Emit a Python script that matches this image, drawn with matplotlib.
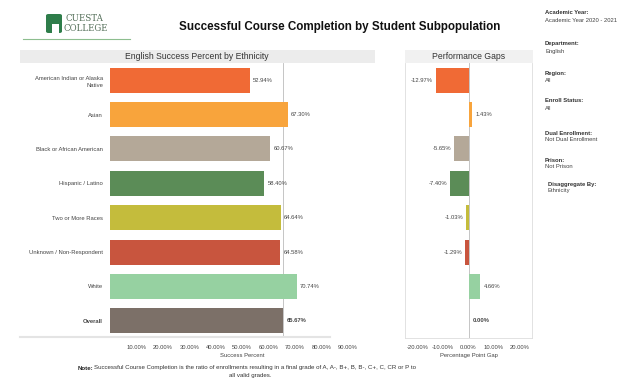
import matplotlib
matplotlib.use("Agg")
import matplotlib.pyplot as plt
from matplotlib.patches import Rectangle, FancyBboxPatch
from matplotlib.ticker import FuncFormatter

plt.rcParams['font.family'] = ['Liberation Sans', 'DejaVu Sans']

# ---- data ----
groups = ["American Indian or Alaska\nNative", "Asian", "Black or African American",
          "Hispanic / Latino", "Two or More Races", "Unknown / Non-Respondent",
          "White", "Overall"]
success_pct = [52.94, 67.30, 60.67, 58.40, 64.64, 64.58, 70.74, 65.67]
gap_pct = [-12.97, 1.43, -5.65, -7.40, -1.03, -1.29, 4.66, 0.00]
colors = ["#F06A35", "#F8A43C", "#B4A898", "#5B8C57", "#C4BC3C", "#C8553E",
          "#96D1A1", "#7C7068"]
success_ticks = [10, 20, 30, 40, 50, 60, 70, 80, 90]
gap_ticks = [-20, -10, 0, 10, 20]

filters = [("Academic Year:", "Academic Year 2020 - 2021"),
           ("Department:", "English"),
           ("Region:", "All"),
           ("Enroll Status:", "All"),
           ("Dual Enrollment:", "Not Dual Enrollment"),
           ("Prison:", "Not Prison"),
           ("Disaggregate By:", "Ethnicity")]

W, H = 621, 384
fig = plt.figure(figsize=(W / 100, H / 100), dpi=100)
fig.patch.set_facecolor("white")


def fx(x):
    return x / W


def fy(y):
    return 1 - y / H


def axes_px(x0, y0, x1, y1):
    return fig.add_axes([fx(x0), fy(y1), fx(x1) - fx(x0), (y1 - y0) / H])


TXT = "#444444"
FS = 4.2
n = len(groups)
ypos = list(range(n))

# ---- panel headers ----
fig.patches.append(Rectangle((fx(20), fy(63)), fx(375) - fx(20), 13 / H,
                             transform=fig.transFigure, facecolor="#ECECEC",
                             edgecolor="none", zorder=0))
fig.patches.append(Rectangle((fx(405), fy(63)), fx(533) - fx(405), 13 / H,
                             transform=fig.transFigure, facecolor="#F1F1F1",
                             edgecolor="none", zorder=0))
fig.text(fx(197), fy(56.5), "English Success Percent by Ethnicity", ha="center",
         va="center", fontsize=6.2, color="#333333")
fig.text(fx(469), fy(56.5), "Performance Gaps", ha="center", va="center",
         fontsize=6.2, color="#333333")

# ---- success percent bars ----
ax = axes_px(110, 63, 374, 338)
ax.barh(ypos, success_pct, height=0.73, color=colors, zorder=2)
ax.set_xlim(0, 100)
ax.set_ylim(n - 0.5, -0.5)
ax.axvline(success_pct[-1], color="#BBBBBB", lw=0.6, zorder=1)
ax.set_yticks(ypos)
ax.set_yticklabels(groups, fontsize=FS, color=TXT, linespacing=1.5)
for lbl in ax.get_yticklabels():
    lbl.set_multialignment("right")
ax.get_yticklabels()[-1].set_fontweight("bold")
ax.set_xticks(success_ticks)
ax.xaxis.set_major_formatter(FuncFormatter(lambda v, p: f"{v:.2f}%"))
ax.tick_params(axis="x", labelsize=FS, colors=TXT, length=0, pad=5)
ax.tick_params(axis="y", length=0, pad=5)
ax.set_xlabel("Success Percent", fontsize=FS, color=TXT, labelpad=2)
for s in ["top", "right", "bottom", "left"]:
    ax.spines[s].set_visible(False)
for i, v in enumerate(success_pct):
    ax.text(v + 1.2, i, f"{v:.2f}%", va="center", ha="left", fontsize=FS,
            color=TXT, fontweight="bold" if i == n - 1 else "normal")

# faint baseline under the left panel
fig.lines.append(plt.Line2D([fx(20), fx(330)], [fy(337), fy(337)],
                            transform=fig.transFigure, color="#E4E4E4", lw=1.5))

# ---- performance gap bars ----
gx = axes_px(405, 63, 532, 338)
gx.barh(ypos, gap_pct, height=0.73, color=colors, zorder=2)
gx.set_xlim(-25, 25)
gx.set_ylim(n - 0.5, -0.5)
gx.axvline(0, color="#BBBBBB", lw=0.6, zorder=1)
gx.set_yticks([])
gx.set_xticks(gap_ticks)
gx.xaxis.set_major_formatter(FuncFormatter(lambda v, p: f"{v:.2f}%"))
gx.tick_params(axis="x", labelsize=FS, colors=TXT, length=0, pad=5)
gx.set_xlabel("Percentage Point Gap", fontsize=FS, color=TXT, labelpad=2)
gx.spines["top"].set_visible(False)
for s in ["left", "right", "bottom"]:
    gx.spines[s].set_color("#DDDDDD")
    gx.spines[s].set_linewidth(0.6)
for i, v in enumerate(gap_pct):
    bold = "bold" if i == n - 1 else "normal"
    if v < 0:
        gx.text(v - 1.0, i, f"{v:.2f}%", va="center", ha="right", fontsize=FS,
                color=TXT, fontweight=bold)
    else:
        gx.text(v + 1.5, i, f"{v:.2f}%", va="center", ha="left", fontsize=FS,
                color=TXT, fontweight=bold)

# ---- title ----
fig.text(fx(340), fy(27), "Successful Course Completion by Student Subpopulation",
         ha="center", va="center", fontsize=8.4, fontweight="bold", color="#111111")

# ---- college logo ----
fig.patches.append(FancyBboxPatch((fx(46), fy(33)), fx(16), 19 / H,
                                  boxstyle="round,pad=0,rounding_size=0.004",
                                  transform=fig.transFigure, facecolor="#2E7D4A",
                                  edgecolor="none"))
fig.patches.append(Rectangle((fx(52), fy(33)), fx(7), 9 / H,
                             transform=fig.transFigure, facecolor="white",
                             edgecolor="none"))
fig.text(fx(66), fy(18.5), "CUESTA", fontsize=6.2, family="DejaVu Serif",
         color="#55705A", va="center", ha="left")
fig.text(fx(64), fy(28.5), "COLLEGE", fontsize=6.2, family="DejaVu Serif",
         color="#55705A", va="center", ha="left")
fig.lines.append(plt.Line2D([fx(23), fx(130)], [fy(38.5), fy(38.5)],
                            transform=fig.transFigure, color="#8DBE8F", lw=0.8))

# ---- filter sidebar ----
filter_y = [13, 44, 73, 101, 133, 160, 184]
for (lab, val), y in zip(filters, filter_y):
    x0 = 548 if lab.startswith("Disaggregate") else 545
    fig.text(fx(x0), fy(y), lab, fontsize=FS, fontweight="bold", color="#333333",
             va="center", ha="left")
    fig.text(fx(x0), fy(y + 7), val, fontsize=FS, color="#444444",
             va="center", ha="left", clip_on=False)

# ---- footnote ----
fig.text(fx(78), fy(368), "Note:", fontsize=4.4, fontweight="bold", color="#222222",
         va="center", ha="left")
fig.text(fx(94), fy(368),
         "Successful Course Completion is the ratio of enrollments resulting in a "
         "final grade of A, A-, B+, B, B-, C+, C, CR or P to",
         fontsize=4.4, color="#333333", va="center", ha="left")
fig.text(fx(250), fy(376), "all valid grades.", fontsize=4.4, color="#333333",
         va="center", ha="center")

fig.savefig("out.png", dpi=100, facecolor="white")
